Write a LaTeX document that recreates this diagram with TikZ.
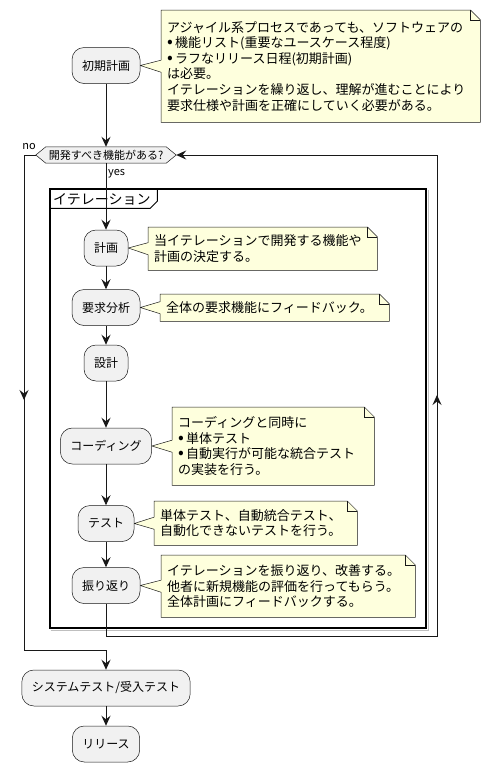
\documentclass[tikz,border=0pt]{standalone}
\usepackage{fontspec}
\setmainfont{Noto Sans CJK JP}
\usetikzlibrary{arrows.meta,backgrounds}
\definecolor{actfill}{HTML}{F1F1F1}
\definecolor{notefill}{HTML}{FEFFDD}
\definecolor{ink}{HTML}{181818}

% list bullet used inside notes
\newcommand\noteitem{{\fontsize{17}{15.6}\selectfont •}\,}

% note outline with folded corner and a wedge pointing at an activity
\newcommand\notecallout[2]{%
  \draw[draw=ink, line width=0.5pt, fill=notefill]
    (#1.north west) -- ([xshift=-10pt]#1.north east) -- ([yshift=-10pt]#1.north east)
    -- (#1.south east) -- (#1.south west) -- ([yshift=-6pt]#1.west)
    -- (#2.east) -- ([yshift=6pt]#1.west) -- cycle;
  \draw[draw=ink, line width=0.5pt]
    ([xshift=-10pt]#1.north east) -- ([xshift=-10pt,yshift=-10pt]#1.north east)
    -- ([yshift=-10pt]#1.north east);}

\begin{document}
\begin{tikzpicture}[x=1pt,y=-1pt,
  act/.style={draw=ink, line width=0.5pt, fill=actfill, rounded corners=12pt,
    minimum height=36pt, inner xsep=10pt, font=\fontsize{12}{14}\selectfont},
  notebox/.style={inner xsep=6pt, inner ysep=4pt, align=left, anchor=north west,
    font=\fontsize{13}{15.6}\selectfont},
  small/.style={font=\fontsize{11}{13}\selectfont, inner sep=1pt},
  link/.style={draw=ink, line width=1pt},
  flow/.style={link, -{Stealth[length=10pt,width=9pt,inset=3.5pt]}},
  framebox/.style={draw=black, line width=1.5pt, inner sep=0pt}]
\useasboundingbox (0,0) rectangle (491,772);

% iteration frame
\node[framebox, minimum width=376pt, minimum height=439pt] (iter) at (238,408.5) {};
\node[anchor=west, font=\fontsize{14}{16}\selectfont, inner sep=0pt] (itertitle) at (53,199) {イテレーション};
\draw[black, line width=1pt] (iter.north west) ++(0,20) -- ++(101,0) -- ++(7,-7) -- ++(0,-13);

% activities
\node[act] (init) at (106,65.5) {初期計画};
\node[small, minimum width=140pt, minimum height=16pt, inner sep=0pt] (q) at (106,155) {開発すべき機能がある?};
\node[act] (plan) at (106,248) {計画};
\node[act] (req) at (106,307.5) {要求分析};
\node[act] (design) at (106,363) {設計};
\node[act] (coding) at (106,446) {コーディング};
\node[act] (test) at (106,523.5) {テスト};
\node[act] (retro) at (106,585.5) {振り返り};
\node[act] (sys) at (106,688) {システムテスト/受入テスト};
\node[act] (release) at (106,744) {リリース};

% notes
\node[notebox, text width=307pt, minimum height=112pt] (n1) at (161,10) {%
アジャイル系プロセスであっても、ソフトウェアの\\
\noteitem 機能リスト(重要なユースケース程度)\\
\noteitem ラフなリリース日程(初期計画)\\
は必要。\\
イテレーションを繰り返し、理解が進むことにより\\
要求仕様や計画を正確にしていく必要がある。};
\node[notebox, text width=217pt, minimum height=43pt] (n2) at (148,227) {%
当イテレーションで開発する機能や\\
計画の決定する。};
\node[notebox, text width=217pt, minimum height=27pt] (n3) at (160,294) {%
全体の要求機能にフィードバック。};
\node[notebox, text width=190pt, minimum height=78pt] (n4) at (172,407) {%
コーディングと同時に\\
\noteitem 単体テスト\\
\noteitem 自動実行が可能な統合テスト\\
の実装を行う。};
\node[notebox, text width=191pt, minimum height=44pt] (n5) at (154,501) {%
単体テスト、自動統合テスト、\\
自動化できないテストを行う。};
\node[notebox, text width=242pt, minimum height=62pt] (n6) at (161,555) {%
イテレーションを振り返り、改善する。\\
他者に新規機能の評価を行ってもらう。\\
全体計画にフィードバックする。};

\begin{pgfonlayer}{background}
  % frame shadow
  \draw[black!25, line width=1.2pt]
    ([shift={(1.4pt,-1.4pt)}]iter.south west) -- ([shift={(1.4pt,-1.4pt)}]iter.south east)
    -- ([shift={(1.4pt,-1.4pt)}]iter.north east);
  % decision hexagon
  \draw[draw=ink, line width=0.5pt, fill=actfill]
    (q.west) -- ([xshift=10pt]q.north west) -- ([xshift=-10pt]q.north east) -- (q.east)
    -- ([xshift=-10pt]q.south east) -- ([xshift=10pt]q.south west) -- cycle;
  \notecallout{n1}{init}
  \notecallout{n2}{plan}
  \notecallout{n3}{req}
  \notecallout{n4}{coding}
  \notecallout{n5}{test}
  \notecallout{n6}{retro}
\end{pgfonlayer}

% routing points
\coordinate (loopBL) at (106,636);
\coordinate (loopBR) at (437,636);
\coordinate (loopTR) at (437,155);
\coordinate (loopMid) at (437,395);
\coordinate (noTL) at (24,155);
\coordinate (noBL) at (24,650);
\coordinate (noBR) at (106,650);
\coordinate (noMid) at (24,400);

% connectors
\draw[flow] (init) -- (q);
\draw[flow] (q) -- (plan);
\draw[flow] (plan) -- (req);
\draw[flow] (req) -- (design);
\draw[flow] (design) -- (coding);
\draw[flow] (coding) -- (test);
\draw[flow] (test) -- (retro);
\draw[link] (retro) -- (loopBL) -- (loopBR) -- (loopTR);
\draw[flow] (loopTR) -- (q.east);
\draw[flow] (loopBR) -- (loopMid);
\draw[link] (q.west) -- (noTL) -- (noBL) -- (noBR);
\draw[flow] (noBR) -- (sys);
\draw[flow] (noTL) -- (noMid);
\draw[flow] (sys) -- (release);

% branch labels
\node[small, anchor=west] (yeslabel) at (107,174) {yes};
\node[small] (nolabel) at (29,147) {no};
\end{tikzpicture}
\end{document}
